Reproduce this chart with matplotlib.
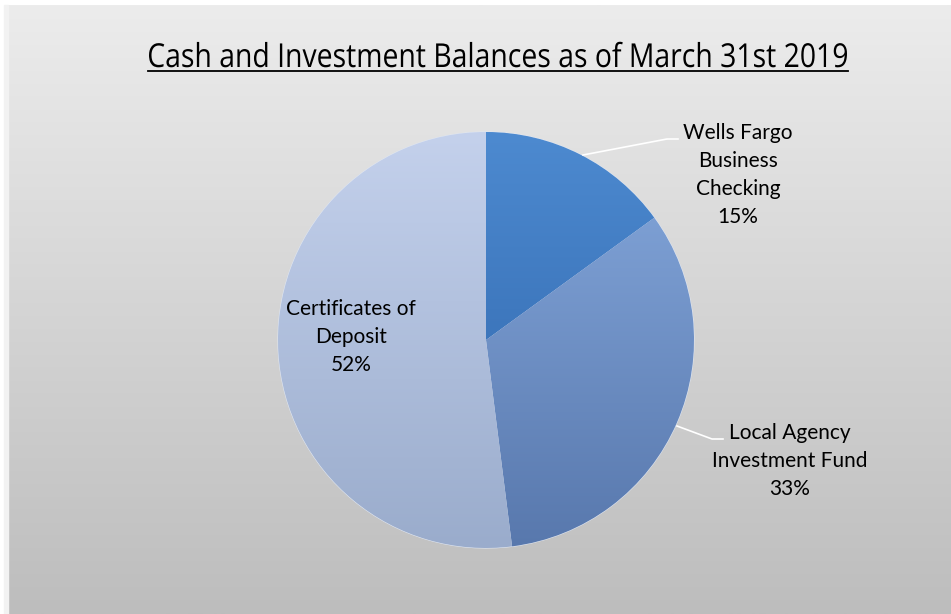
import numpy as np
import matplotlib
matplotlib.use('Agg')
import matplotlib.pyplot as plt
from matplotlib.patches import Rectangle, PathPatch
from matplotlib.textpath import TextPath
from matplotlib.font_manager import FontProperties
from matplotlib.transforms import Affine2D

labels = ['Wells Fargo\nBusiness\nChecking', 'Local Agency\nInvestment Fund', 'Certificates of\nDeposit']
shares = [15, 33, 52]
title = 'Cash and Investment Balances as of March 31st 2019'

W, H = 951, 614
fig = plt.figure(figsize=(W / 100, H / 100), dpi=100)
fig.patch.set_facecolor('white')

# pixel coordinate axes over whole figure (y measured from bottom)
ax = fig.add_axes([0, 0, 1, 1])

# grey gradient panel
grad = np.linspace(0, 1, 256).reshape(-1, 1)
bg = matplotlib.colors.LinearSegmentedColormap.from_list('bg', ['#ececec', '#bdbdbd'])
ax.imshow(grad, extent=(8, W, 0, H - 5), origin='upper', cmap=bg, aspect='auto', zorder=0)
ax.add_patch(Rectangle((4, 0), 4, H - 5, color='#f2f2f2', zorder=0))

cx, cy, r = 486, H - 340, 208
tops = ['#4d8ad0', '#86a9dd', '#c4d1ec']
bots = ['#2c62a8', '#5878ad', '#9aaccc']

wedges, _ = ax.pie(shares, startangle=90, counterclock=False, center=(cx, cy), radius=r,
                   colors=tops, wedgeprops=dict(edgecolor='#dfe6f2', linewidth=0.8), frame=True)
ax.set_xlim(0, W)
ax.set_ylim(0, H)
ax.set_aspect('equal')
ax.axis('off')

# shade each slice with a vertical gradient
for w, c1, c2 in zip(wedges, tops, bots):
    cm = matplotlib.colors.LinearSegmentedColormap.from_list('s', [c1, c2])
    im = ax.imshow(grad, extent=(cx - r, cx + r, cy - r, cy + r), origin='upper', cmap=cm,
                   aspect='auto', zorder=2)
    im.set_clip_path(w)

# labels
fnt = 'Lato'
kw = dict(ha='center', va='center', fontsize=15, family=fnt, linespacing=1.5, zorder=5)
ax.text(738, H - 175, labels[0] + '\n%d%%' % shares[0], **kw)
ax.text(790, H - 461, labels[1] + '\n%d%%' % shares[1], **kw)
ax.text(351, H - 337, labels[2] + '\n%d%%' % shares[2], **kw)

# leader lines
ax.plot([583, 667, 678], [H - 155, H - 139, H - 139], color='white', lw=1.2, zorder=4)
ax.plot([677, 712, 723], [H - 426, H - 439, H - 439], color='white', lw=1.2, zorder=4)

# title: condensed by squeezing a text path horizontally
tp = TextPath((0, 0), title, size=33, prop=FontProperties(family='Open Sans'))
ext = tp.get_extents()
sx = 698 / ext.width
tr = Affine2D().translate(-ext.x0, 0).scale(sx, 1).translate(149, H - 67)
ax.add_patch(PathPatch(tr.transform_path(tp), facecolor='black', edgecolor='none', zorder=5))
ax.plot([148, 848], [H - 71, H - 71], color='black', lw=1.3, zorder=5)

fig.savefig('out.png', dpi=100)
